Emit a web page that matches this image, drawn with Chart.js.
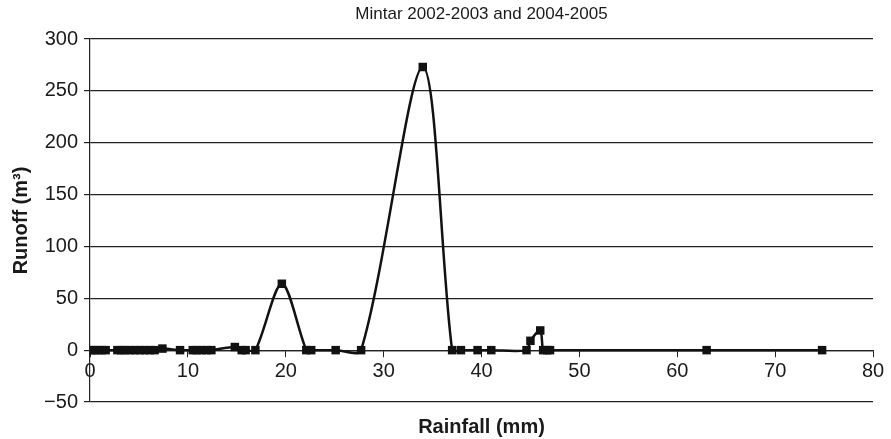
<!DOCTYPE html>
<html>
<head>
<meta charset="utf-8">
<script src="https://cdn.jsdelivr.net/npm/chart.js@4"></script>
<style>
  html, body { margin: 0; padding: 0; background: #fff; }
  #wrap { width: 891px; height: 439px; position: relative; }
</style>
</head>
<body>
<div id="wrap"><canvas id="runoffChart"></canvas></div>
<script>
// Rainfall (mm) vs runoff (m3), Mintar
const rainfall = [0.1, 0.4, 0.8, 1.2, 1.6, 2.8, 3.2, 3.6, 4.1, 4.6, 5.1, 5.6, 6.1, 6.6, 7.4,
  9.2, 10.5, 10.9, 11.4, 11.9, 12.4, 14.8, 15.5, 15.9, 16.9, 19.6, 22.1, 22.6, 25.1, 27.7,
  34.0, 37.0, 37.9, 39.6, 41.0, 44.6, 45.0, 46.0, 46.3, 46.7, 47.0, 63.0, 74.8];
const runoff = [0, 0, 0, 0, 0, 0, 0, 0, 0, 0, 0, 0, 0, 0, 1.5,
  0, 0, 0, 0, 0, 0, 3, 0, 0, 0, 64, 0, 0, 0, 0,
  273, 0, 0, 0, 0, 0, 9, 19, 0, 0, 0, 0, 0];
const xTicks = [0, 10, 20, 30, 40, 50, 60, 70, 80];
const yTicks = [-50, 0, 50, 100, 150, 200, 250, 300];

const chartTitle = 'Mintar 2002-2003 and 2004-2005';
const xTitle = 'Rainfall (mm)';
const yTitle = 'Runoff (m\u00B3)';

const fontFamily = '"Liberation Sans", Arial, sans-serif';
const points = rainfall.map((x, i) => ({ x: x, y: runoff[i] }));

const textPlugin = {
  id: 'texts',
  afterDraw(chart) {
    const ctx = chart.ctx;
    const area = chart.chartArea;
    ctx.save();
    ctx.fillStyle = '#1a1a1a';
    ctx.textAlign = 'center';
    ctx.textBaseline = 'middle';
    ctx.font = '17px ' + fontFamily;
    ctx.fillText(chartTitle, (area.left + area.right) / 2, 14);
    ctx.font = 'bold 20px ' + fontFamily;
    ctx.fillText(xTitle, (area.left + area.right) / 2, 427);
    ctx.translate(21, (area.top + area.bottom) / 2);
    ctx.rotate(-Math.PI / 2);
    ctx.fillText(yTitle, 0, 0);
    ctx.restore();
  }
};

new Chart(document.getElementById('runoffChart'), {
  type: 'line',
  data: {
    datasets: [{
      data: points,
      borderColor: '#111',
      backgroundColor: '#111',
      borderWidth: 2.5,
      tension: 0.3,
      pointStyle: 'rect',
      pointRadius: 6,
      pointBorderWidth: 0,
      fill: false
    }]
  },
  options: {
    responsive: true,
    maintainAspectRatio: false,
    animation: false,
    layout: { padding: { top: 39, right: 18, bottom: 37, left: 0 } },
    plugins: {
      legend: { display: false },
      tooltip: { enabled: false }
    },
    scales: {
      x: {
        type: 'linear',
        position: { y: 0 },
        min: 0,
        max: 80,
        afterBuildTicks: (scale) => { scale.ticks = xTicks.map(v => ({ value: v })); },
        grid: { drawOnChartArea: false, drawTicks: true, tickLength: 6, color: '#222' },
        border: { color: '#222', width: 1.2 },
        ticks: {
          color: '#1a1a1a',
          padding: 3,
          maxRotation: 0,
          font: { size: 20, family: fontFamily }
        }
      },
      y: {
        min: -50,
        max: 300,
        afterBuildTicks: (scale) => { scale.ticks = yTicks.map(v => ({ value: v })); },
        afterFit: (scale) => { scale.width = 90; },
        grid: { color: '#222', lineWidth: 1.2, tickLength: 6 },
        border: { color: '#222', width: 1.2 },
        ticks: {
          color: '#1a1a1a',
          padding: 6,
          font: { size: 20, family: fontFamily },
          callback: (v) => v < 0 ? '\u2212' + Math.abs(v) : v
        }
      }
    }
  },
  plugins: [textPlugin]
});
</script>
</body>
</html>
